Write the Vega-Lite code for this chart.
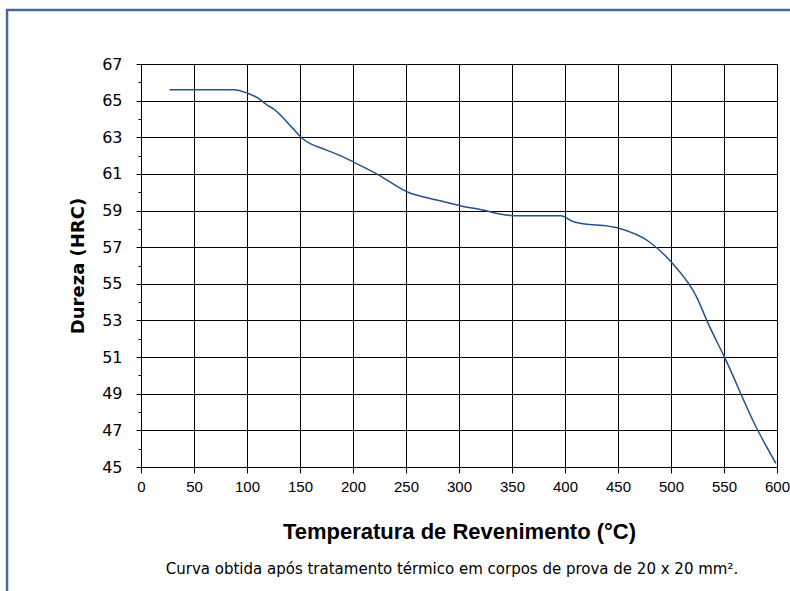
{
  "$schema": "https://vega.github.io/schema/vega-lite/v6.json",
  "width": 636,
  "height": 403,
  "autosize": {"type": "none"},
  "padding": {"left": 141, "top": 64, "right": 13, "bottom": 124},
  "background": "white",
  "title": {
    "text": "Curva obtida após tratamento térmico em corpos de prova de 20 x 20 mm².",
    "orient": "bottom",
    "anchor": "middle",
    "frame": "group",
    "font": "DejaVu Sans",
    "fontSize": 15,
    "fontWeight": "normal",
    "color": "#000000",
    "offset": -39,
    "dx": -7
  },
  "config": {"view": {"stroke": "#000000", "strokeWidth": 1}},
  "data": {
    "values": [
      {"temperatura": 27, "dureza": 65.6},
      {"temperatura": 50, "dureza": 65.6},
      {"temperatura": 88, "dureza": 65.6},
      {"temperatura": 100, "dureza": 65.42},
      {"temperatura": 110, "dureza": 65.15},
      {"temperatura": 119, "dureza": 64.76},
      {"temperatura": 125, "dureza": 64.55},
      {"temperatura": 143, "dureza": 63.5},
      {"temperatura": 152, "dureza": 62.95},
      {"temperatura": 175, "dureza": 62.3},
      {"temperatura": 188, "dureza": 62.0},
      {"temperatura": 201, "dureza": 61.63},
      {"temperatura": 224, "dureza": 60.95},
      {"temperatura": 252, "dureza": 60.0},
      {"temperatura": 279, "dureza": 59.58},
      {"temperatura": 302, "dureza": 59.25},
      {"temperatura": 318, "dureza": 59.08},
      {"temperatura": 351, "dureza": 58.72},
      {"temperatura": 396, "dureza": 58.72},
      {"temperatura": 408, "dureza": 58.39},
      {"temperatura": 451, "dureza": 58.03},
      {"temperatura": 480, "dureza": 57.27},
      {"temperatura": 500, "dureza": 56.2},
      {"temperatura": 524, "dureza": 54.3},
      {"temperatura": 535, "dureza": 52.84},
      {"temperatura": 551, "dureza": 50.93},
      {"temperatura": 581, "dureza": 47.1},
      {"temperatura": 599, "dureza": 45.2}
    ]
  },
  "layer": [
    {
      "data": {"values": [{}]},
      "mark": {"type": "rect", "fill": "white", "fillOpacity": 0, "stroke": "#46699a", "strokeWidth": 2.5, "clip": false},
      "encoding": {
        "x": {"datum": -126.4, "type": "quantitative", "scale": {"domain": [0, 600], "nice": false, "zero": false}, "axis": null},
        "x2": {"datum": 720},
        "y": {"datum": 69.95, "type": "quantitative", "scale": {"domain": [45, 67], "nice": false, "zero": false}, "axis": null},
        "y2": {"datum": 37.74}
      }
    },
    {
      "mark": {"type": "line", "opacity": 0},
      "encoding": {
        "x": {"field": "temperatura", "type": "quantitative", "axis": null},
        "y": {
          "field": "dureza",
          "type": "quantitative",
          "axis": {
            "orient": "left",
            "values": [46, 48, 50, 52, 54, 56, 58, 60, 62, 64, 66],
            "labels": false,
            "grid": false,
            "domain": false,
            "tickSize": 3,
            "tickColor": "#000000",
            "title": null
          }
        }
      }
    },
    {
      "mark": {"type": "line", "color": "#25528a", "strokeWidth": 1.5, "interpolate": "monotone"},
      "encoding": {
        "x": {
          "field": "temperatura",
          "type": "quantitative",
          "scale": {"domain": [0, 600], "nice": false, "zero": false},
          "axis": {
            "orient": "bottom",
            "values": [0, 50, 100, 150, 200, 250, 300, 350, 400, 450, 500, 550, 600],
            "grid": true,
            "gridColor": "#000000",
            "gridOpacity": 1,
            "gridWidth": 1,
            "domainColor": "#000000",
            "tickColor": "#000000",
            "tickSize": 6,
            "labelFont": "Liberation Sans",
            "labelFontSize": 15,
            "labelColor": "#000000",
            "labelPadding": 6,
            "labelFlush": false,
            "labelOverlap": false,
            "labelBound": false,
            "title": "Temperatura de Revenimento (°C)",
            "titleFont": "Liberation Sans",
            "titleFontSize": 22,
            "titleFontWeight": "bold",
            "titleColor": "#000000",
            "titlePadding": 27
          }
        },
        "y": {
          "field": "dureza",
          "type": "quantitative",
          "scale": {"domain": [45, 67], "nice": false, "zero": false},
          "axis": {
            "orient": "left",
            "values": [45, 47, 49, 51, 53, 55, 57, 59, 61, 63, 65, 67],
            "grid": true,
            "gridColor": "#000000",
            "gridOpacity": 1,
            "gridWidth": 1,
            "domainColor": "#000000",
            "tickColor": "#000000",
            "tickSize": 5,
            "labelFont": "DejaVu Sans",
            "labelFontSize": 16,
            "labelColor": "#000000",
            "labelPadding": 14,
            "labelOverlap": false,
            "labelBound": false,
            "labelFlush": false,
            "title": "Dureza (HRC)",
            "titleFont": "DejaVu Sans",
            "titleFontSize": 18,
            "titleFontWeight": "bold",
            "titleColor": "#000000",
            "titlePadding": 14
          }
        }
      }
    }
  ],
  "resolve": {"axis": {"x": "independent", "y": "independent"}}
}
